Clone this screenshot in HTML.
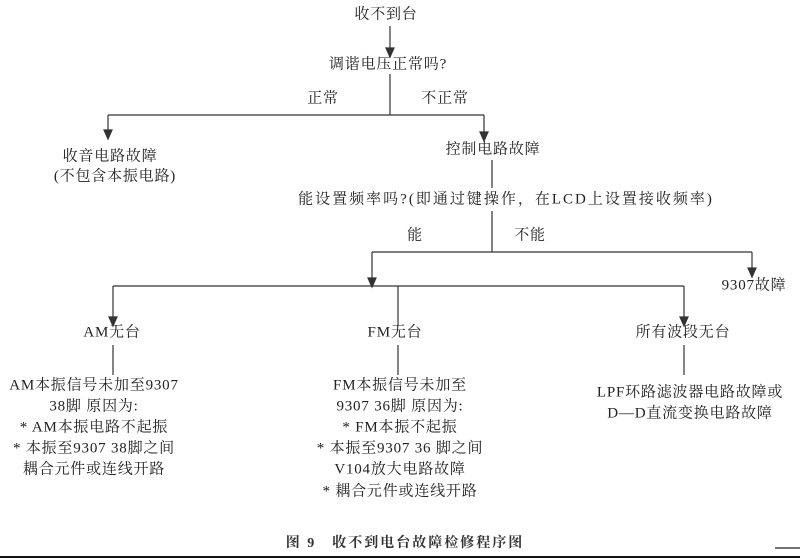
<!DOCTYPE html>
<html><head><meta charset="utf-8"><style>
html,body{margin:0;padding:0;background:#fff}
svg{display:block}
text{font-family:"Liberation Serif","Noto Serif CJK SC",serif;font-size:15px;fill:#222;text-anchor:middle;dominant-baseline:middle;letter-spacing:0.8px}
</style></head><body>
<svg width="800" height="560" viewBox="0 0 800 560">
<g stroke="#333" stroke-width="1.2" fill="none">
<line x1="390" y1="26" x2="390" y2="56"/>
<path d="M386,48 L394,48 L390,57 z" fill="#333"/>
<line x1="390" y1="74" x2="390" y2="115"/>
<line x1="108" y1="115" x2="484" y2="115"/>
<line x1="108" y1="115" x2="108" y2="138"/>
<path d="M104,130 L112,130 L108,139 z" fill="#333"/>
<line x1="484" y1="115" x2="484" y2="140"/>
<path d="M480,132 L488,132 L484,141 z" fill="#333"/>
<line x1="492" y1="160" x2="492" y2="188"/>
<line x1="492" y1="211" x2="492" y2="252"/>
<line x1="372" y1="252" x2="752" y2="252"/>
<line x1="752" y1="252" x2="752" y2="276"/>
<path d="M748,268 L756,268 L752,277 z" fill="#333"/>
<line x1="372" y1="252" x2="372" y2="286"/>
<path d="M368,278 L376,278 L372,287 z" fill="#333"/>
<line x1="113" y1="286" x2="684" y2="286"/>
<line x1="113" y1="286" x2="113" y2="325"/>
<path d="M109,317 L117,317 L113,326 z" fill="#333"/>
<line x1="398" y1="286" x2="398" y2="325"/>
<line x1="684" y1="286" x2="684" y2="325"/>
<path d="M680,317 L688,317 L684,326 z" fill="#333"/>
<line x1="113" y1="345" x2="113" y2="375"/>
<line x1="398" y1="345" x2="398" y2="375"/>
<line x1="684" y1="345" x2="684" y2="375"/>
</g>
<text x="386" y="15">收不到台</text>
<text x="388" y="65">调谐电压正常吗?</text>
<text x="323" y="99">正常</text>
<text x="445" y="99">不正常</text>
<text x="110" y="157">收音电路故障</text>
<text x="115" y="177">(不包含本振电路)</text>
<text x="493" y="150">控制电路故障</text>
<text x="506" y="200" style="letter-spacing:2px">能设置频率吗?(即通过键操作，在LCD上设置接收频率)</text>
<text x="415" y="236">能</text>
<text x="530" y="236">不能</text>
<text x="754" y="286">9307故障</text>
<text x="112" y="333">AM无台</text>
<text x="395" y="333">FM无台</text>
<text x="683" y="333">所有波段无台</text>
<text x="94" y="386">AM本振信号未加至9307</text>
<text x="94" y="407">38脚 原因为:</text>
<text x="94" y="428">* AM本振电路不起振</text>
<text x="94" y="449">* 本振至9307 38脚之间</text>
<text x="94" y="470">耦合元件或连线开路</text>
<text x="400" y="386">FM本振信号未加至</text>
<text x="400" y="407">9307 36脚 原因为:</text>
<text x="400" y="428">* FM本振不起振</text>
<text x="400" y="449">* 本振至9307 36 脚之间</text>
<text x="400" y="470">V104放大电路故障</text>
<text x="400" y="492">* 耦合元件或连线开路</text>
<text x="690" y="393">LPF环路滤波器电路故障或</text>
<text x="690" y="414">D—D直流变换电路故障</text>
<text x="405" y="544" style="font-size:14px;font-weight:bold;letter-spacing:2px;fill:#333">图 9　收不到电台故障检修程序图</text>
<line x1="0" y1="557" x2="800" y2="557" stroke="#111" stroke-width="2"/>
<line x1="775" y1="548" x2="800" y2="548" stroke="#444" stroke-width="1.5"/>
</svg>
</body></html>
